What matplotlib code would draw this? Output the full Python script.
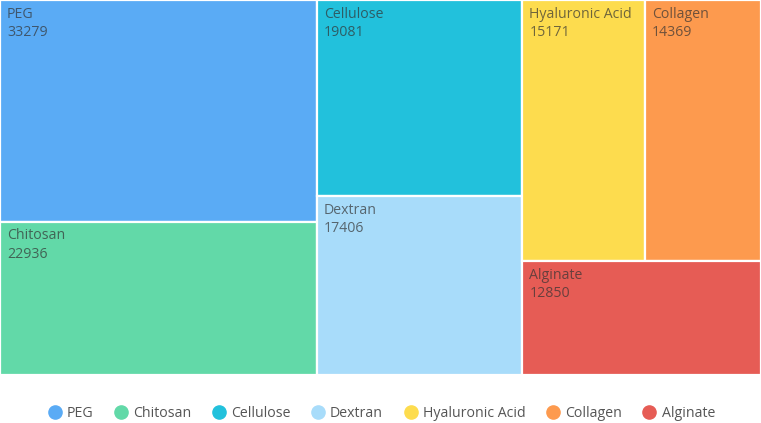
import matplotlib.pyplot as plt
from matplotlib.patches import Rectangle
from matplotlib.lines import Line2D

# treemap data
names = ['PEG', 'Chitosan', 'Cellulose', 'Dextran', 'Hyaluronic Acid', 'Collagen', 'Alginate']
values = [33279, 22936, 19081, 17406, 15171, 14369, 12850]
colors = ['#5aabf5', '#62d9a8', '#22c1dc', '#a8dcfa', '#fddc4e', '#fd9a4e', '#e65c55']

plt.rcParams['font.family'] = ['Open Sans', 'DejaVu Sans']

W, H = 761.0, 375.0
PHI = 0.5 * (1 + 5 ** 0.5)


def worst(areas, side):
    s = sum(areas)
    f = side * side * PHI
    return max(f * max(areas) / (s * s), (s * s) / (f * min(areas)))


def squarify(vals, x, y, w, h):
    total = float(sum(vals))
    areas = [v / total * w * h for v in vals]
    rects = []
    i = 0
    while i < len(areas):
        side = min(w, h)
        row = [areas[i]]
        j = i + 1
        while j < len(areas) and worst(row + [areas[j]], side) <= worst(row, side):
            row.append(areas[j])
            j += 1
        s = sum(row)
        if w >= h:
            cw = s / h
            cy = y
            for a in row:
                rh = a / cw
                rects.append((x, cy, cw, rh))
                cy += rh
            x += cw
            w -= cw
        else:
            rh = s / w
            cx = x
            for a in row:
                rw = a / rh
                rects.append((cx, y, rw, rh))
                cx += rw
            y += rh
            h -= rh
        i = j
    return rects


fig = plt.figure(figsize=(7.61, 4.23), dpi=100)
ax = fig.add_axes([0, 1 - H / 423, 1, H / 423])
ax.set_xlim(0, W)
ax.set_ylim(H, 0)
ax.axis('off')

for (rx, ry, rw, rh), n, v, c in zip(squarify(values, 0, 0, W, H), names, values, colors):
    ax.add_patch(Rectangle((rx, ry), rw, rh, facecolor=c, edgecolor='white', linewidth=1.6))
    ax.text(rx + 7, ry + 6.5, f'{n}\n{v}', ha='left', va='top', fontsize=10.2,
            color='#333333', alpha=0.7, linespacing=1.3)

handles = [Line2D([], [], marker='o', linestyle='none', markersize=9.5,
                  markerfacecolor=c, markeredgecolor=c) for c in colors]
fig.legend(handles, names, loc='center', bbox_to_anchor=(0.5, 1 - 413 / 423), ncol=7,
           frameon=False, fontsize=10.2, handletextpad=0.25, columnspacing=1.35,
           labelcolor='#555555', handlelength=1.2)

fig.savefig('out.png', dpi=100)
